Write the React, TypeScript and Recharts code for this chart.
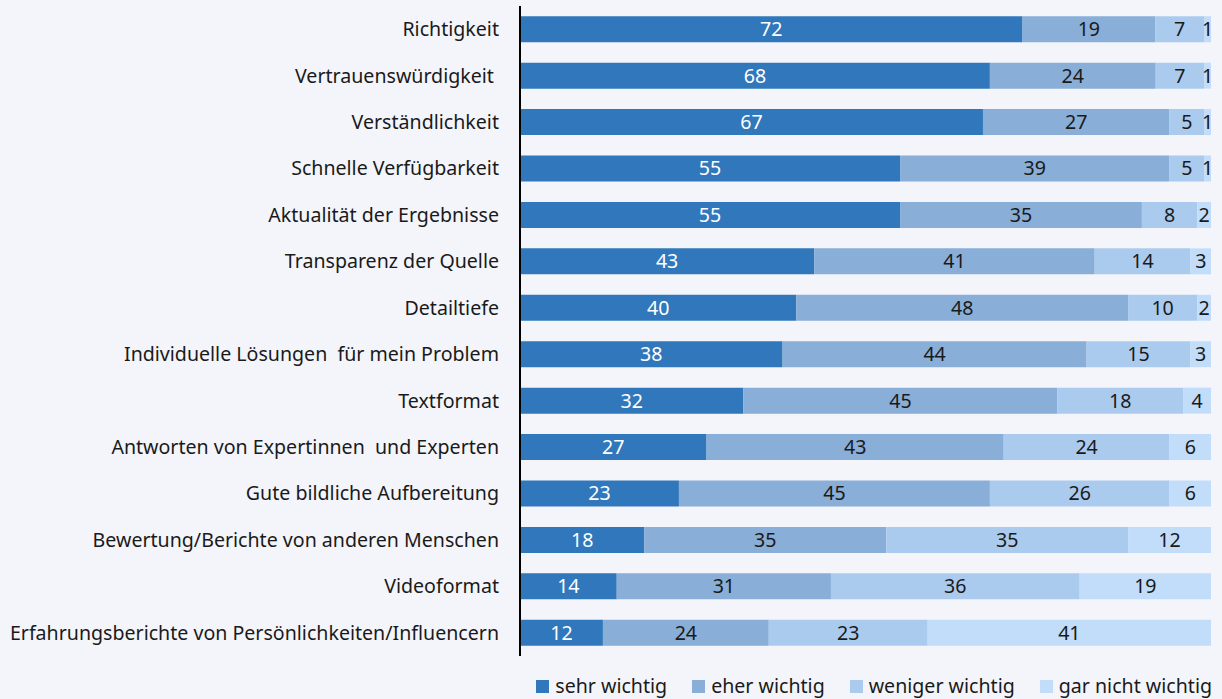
import React from 'react';
import { BarChart, Bar, XAxis, YAxis, LabelList, Legend } from 'recharts';

const categories = [
  'Richtigkeit',
  'Vertrauenswürdigkeit\u00a0',
  'Verständlichkeit',
  'Schnelle Verfügbarkeit',
  'Aktualität der Ergebnisse',
  'Transparenz der Quelle',
  'Detailtiefe',
  'Individuelle Lösungen\u00a0 für mein Problem',
  'Textformat',
  'Antworten von Expertinnen\u00a0 und Experten',
  'Gute bildliche Aufbereitung',
  'Bewertung/Berichte von anderen Menschen',
  'Videoformat',
  'Erfahrungsberichte von Persönlichkeiten/Influencern',
];
const sehrWichtig = [72, 68, 67, 55, 55, 43, 40, 38, 32, 27, 23, 18, 14, 12];
const eherWichtig = [19, 24, 27, 39, 35, 41, 48, 44, 45, 43, 45, 35, 31, 24];
const wenigerWichtig = [7, 7, 5, 5, 8, 14, 10, 15, 18, 24, 26, 35, 36, 23];
const garNichtWichtig = [1, 1, 1, 1, 2, 3, 2, 3, 4, 6, 6, 12, 19, 41];

const seriesNames = ['sehr wichtig', 'eher wichtig', 'weniger wichtig', 'gar nicht wichtig'];
const COLORS = ['#3078bb', '#89aed8', '#abcbee', '#c2ddf9'];

const data = categories.map((name, i) => ({
  name,
  s0: sehrWichtig[i],
  s1: eherWichtig[i],
  s2: wenigerWichtig[i],
  s3: garNichtWichtig[i],
}));

const FONT = '"Noto Sans", sans-serif';

const LegendContent = () => (
  <div style={{ display: 'flex', justifyContent: 'flex-end', fontFamily: FONT, fontSize: 19.6, lineHeight: '24px', color: '#1a1a1a' }}>
    {seriesNames.map((n, i) => (
      <div key={n} style={{ display: 'flex', alignItems: 'center', marginLeft: i === 0 ? 0 : 25 }}>
        <span style={{ width: 13, height: 13, background: COLORS[i], display: 'inline-block', marginRight: 6 }} />
        <span>{n}</span>
      </div>
    ))}
  </div>
);

const App = () => {
  return (
    <div style={{ position: 'absolute', left: 0, top: 0, width: 1222, height: 699, background: '#f4f5fb' }}>
      <BarChart
        width={1222}
        height={699}
        data={data}
        layout="vertical"
        stackOffset="expand"
        barCategoryGap="22%"
        margin={{ top: 6, right: 11, bottom: 19, left: 0 }}
      >
        <XAxis type="number" hide domain={[0, 1]} />
        <YAxis
          type="category"
          dataKey="name"
          width={520}
          tickLine={false}
          tickSize={0}
          tickMargin={21}
          axisLine={{ stroke: '#000', strokeWidth: 2 }}
          tick={{ fill: '#1a1a1a', fontSize: 19.6, fontFamily: FONT }}
          interval={0}
        />
        <Legend
          verticalAlign="bottom"
          content={<LegendContent />}
          wrapperStyle={{ left: 400, width: 812, bottom: 1 }}
        />
        {['s0', 's1', 's2', 's3'].map((k, i) => (
          <Bar key={k} dataKey={k} stackId="a" fill={COLORS[i]} name={seriesNames[i]} isAnimationActive={false}>
            <LabelList
              dataKey={k}
              position="center"
              fill={i === 0 ? '#ffffff' : '#1a1a1a'}
              style={{ fontSize: 19.6, fontFamily: FONT }}
            />
          </Bar>
        ))}
      </BarChart>
    </div>
  );
};

export default App;
